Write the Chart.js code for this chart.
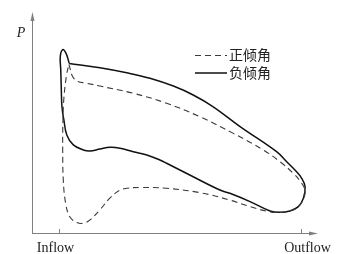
<!DOCTYPE html>
<html>
<head>
<meta charset="utf-8">
<script src="https://cdn.jsdelivr.net/npm/chart.js@4"></script>
<style>
  body { margin: 0; background: #fff; }
  #wrap { width: 348px; height: 254px; }
</style>
</head>
<body>
<div id="wrap"><canvas id="loopChart" width="348" height="254"></canvas></div>
<script>
const seriesNames = ["正倾角", "负倾角"];
const tickLabels = ["Inflow", "Outflow"];
const tickValues = [0, 100];
const yTitle = "P";

// 正倾角 (dashed loop), starting at the upper-left joint
const posX = [4.0, 4.6, 5.5, 7.3, 11.3, 16.8, 30.6, 44.4, 58.2, 72.0, 84.4, 91.3, 96.8, 100.3, 101.7, 101.0, 99.0, 95.4, 91.3, 86.3, 78.9, 70.6, 58.2, 44.4, 33.4, 27.9, 25.1, 21.0, 16.8, 12.7, 9.9, 7.3, 4.4, 2.6, 1.65, 1.4, 1.5, 1.9, 3.0, 4.0];
const posP = [77.4, 74.8, 71.8, 69.7, 68.7, 67.4, 64.1, 59.5, 53.3, 45.7, 38.1, 32.7, 27.4, 22.8, 19.3, 15.6, 12.2, 10.1, 9.4, 9.9, 12.1, 15.1, 18.5, 20.5, 20.9, 20.5, 19.7, 16.1, 10.6, 6.0, 4.5, 4.8, 7.3, 13.8, 24.3, 38.1, 51.8, 61.9, 72.5, 77.4];

// 负倾角 (solid loop), starting at the same joint and going over the spike
const negX = [4.1, 2.8, 1.4, 0.4, 0.6, 0.8, 1.1, 1.9, 3.1, 5.8, 9.9, 12.7, 16.8, 21.0, 25.1, 30.6, 36.2, 41.6, 44.4, 55.4, 66.5, 70.6, 78.9, 87.2, 91.3, 95.4, 98.9, 101.0, 101.7, 100.3, 97.5, 94.1, 89.9, 74.8, 63.7, 55.4, 47.2, 37.5, 27.9, 16.8, 4.1];
const negP = [77.8, 82.4, 84.1, 80.9, 74.8, 67.1, 57.9, 51.8, 45.0, 40.4, 38.1, 37.6, 38.5, 39.3, 38.9, 37.3, 35.8, 33.5, 32.0, 25.8, 19.7, 18.2, 14.4, 10.1, 9.5, 10.1, 12.1, 15.9, 21.2, 25.1, 28.9, 32.7, 37.3, 48.8, 57.9, 63.3, 67.4, 71.0, 73.5, 75.8, 77.8];

const toPoints = (xs, ys) => xs.map((x, i) => ({ x: x, y: ys[i] }));

const axisPlugin = {
  id: "axisPlugin",
  afterDraw(chart) {
    const ctx = chart.ctx;
    const area = chart.chartArea;
    const xs = chart.scales.x;
    const axisColor = "#808080";

    ctx.save();
    ctx.strokeStyle = axisColor;
    ctx.fillStyle = axisColor;
    ctx.lineWidth = 1;

    // axes
    ctx.beginPath();
    ctx.moveTo(area.left + 0.5, area.bottom);
    ctx.lineTo(area.left + 0.5, area.top + 2);
    ctx.moveTo(area.left, area.bottom + 0.5);
    ctx.lineTo(area.right - 2, area.bottom + 0.5);
    ctx.stroke();

    // arrow heads
    ctx.beginPath();
    ctx.moveTo(area.left + 0.5, area.top - 3);
    ctx.lineTo(area.left - 1.5, area.top + 6);
    ctx.lineTo(area.left + 2.5, area.top + 6);
    ctx.closePath();
    ctx.fill();
    ctx.beginPath();
    ctx.moveTo(area.right + 3, area.bottom + 0.5);
    ctx.lineTo(area.right - 6, area.bottom - 1.5);
    ctx.lineTo(area.right - 6, area.bottom + 2.5);
    ctx.closePath();
    ctx.fill();

    // ticks and labels
    ctx.font = "14px 'Liberation Serif', 'DejaVu Serif', serif";
    ctx.fillStyle = "#222";
    ctx.textBaseline = "alphabetic";
    tickValues.forEach((v, i) => {
      const px = Math.round(xs.getPixelForValue(v)) + 0.5;
      ctx.beginPath();
      ctx.moveTo(px, area.bottom - 4);
      ctx.lineTo(px, area.bottom);
      ctx.stroke();
      ctx.textAlign = "center";
      const shift = i === 0 ? -4 : 6;
      ctx.fillText(tickLabels[i], px + shift, area.bottom + 19);
    });

    ctx.font = "italic 14px 'Liberation Serif', 'DejaVu Serif', serif";
    ctx.textAlign = "center";
    ctx.fillText(yTitle, area.left - 11, area.top + 22);

    // legend
    const lx = 195;
    const rows = [55, 72.5];
    ctx.font = "14px 'Noto Sans CJK SC', sans-serif";
    ctx.textAlign = "left";
    ctx.textBaseline = "middle";
    chart.data.datasets.forEach((ds, i) => {
      ctx.strokeStyle = ds.borderColor;
      ctx.lineWidth = ds.borderWidth;
      ctx.setLineDash(ds.borderDash || []);
      ctx.beginPath();
      ctx.moveTo(lx, rows[i] + 0.5);
      ctx.lineTo(lx + 32, rows[i] + 0.5);
      ctx.stroke();
      ctx.setLineDash([]);
      ctx.fillStyle = "#222";
      ctx.fillText(ds.label, lx + 34, rows[i]);
    });
    ctx.restore();
  },
};

new Chart(document.getElementById("loopChart").getContext("2d"), {
  type: "scatter",
  data: {
    datasets: [
      {
        label: seriesNames[0],
        data: toPoints(posX, posP),
        showLine: true,
        borderColor: "#3a3a3a",
        borderWidth: 1.1,
        borderDash: [6, 4],
        pointRadius: 0,
        tension: 0.4,
      },
      {
        label: seriesNames[1],
        data: toPoints(negX, negP),
        showLine: true,
        borderColor: "#111",
        borderWidth: 1.5,
        pointRadius: 0,
        tension: 0.4,
      },
    ],
  },
  options: {
    responsive: false,
    animation: false,
    layout: {
      padding: { left: 32, top: 15, right: 33, bottom: 21 },
    },
    scales: {
      x: { type: "linear", min: -11.3, max: 105.8, display: false },
      y: { min: 0, max: 100, display: false },
    },
    plugins: {
      legend: { display: false },
      tooltip: { enabled: false },
    },
  },
  plugins: [axisPlugin],
});
</script>
</body>
</html>
